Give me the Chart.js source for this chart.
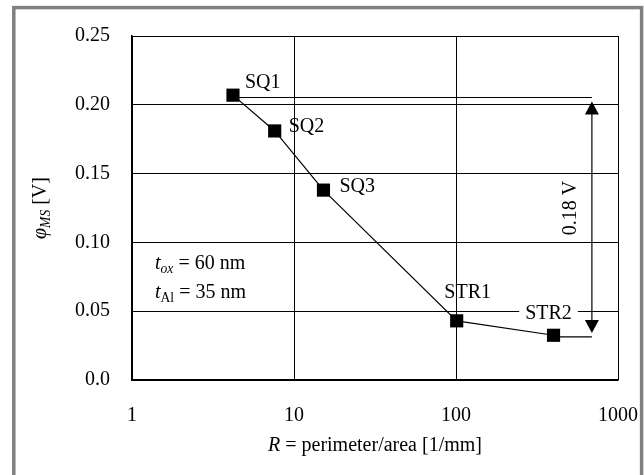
<!DOCTYPE html>
<html>
<head>
<meta charset="utf-8">
<script src="https://cdn.jsdelivr.net/npm/chart.js@4/dist/chart.umd.min.js"></script>
<style>
  html, body { margin: 0; padding: 0; background: #fff; }
  #wrap { width: 644px; height: 475px; }
</style>
</head>
<body>
<div id="wrap"><canvas id="c" width="644" height="475"></canvas></div>
<script>
// values
var pointNames = ['SQ1', 'SQ2', 'SQ3', 'STR1', 'STR2'];
var ratioR = [4.2, 7.6, 15.2, 101, 400];          // R = perimeter/area [1/mm]
var phiMS = [0.207, 0.181, 0.138, 0.043, 0.0325];  // [V]
var xTicks = [1, 10, 100, 1000];
var yTicks = [0, 0.05, 0.10, 0.15, 0.20, 0.25];
var diffTop = 0.2053;
var diffBottom = 0.0313;
var diffX = 690;
var diffLabel = '0.18 V';

var FONT = '"Liberation Serif", "Times New Roman", serif';
var FS = 20;

// label offsets next to each point [dx, dy, align, white box]
var labelPos = {
    SQ1: [12, -12, 'left', false],
    SQ2: [14, -4, 'left', false],
    SQ3: [16, -3, 'left', false],
    STR1: [11, -28, 'center', false],
    STR2: [-5, -22, 'center', true]
};

var mainData = ratioR.map(function(x, i) { return {x: x, y: phiMS[i]}; });

// draw mixed italic / regular runs, returns end x
function runs(ctx, parts, x, y) {
    parts.forEach(function(p) {
        var size = p.sub ? FS * 0.68 : FS;
        ctx.font = (p.it ? 'italic ' : '') + size + 'px ' + FONT;
        ctx.fillText(p.t, x, y + (p.sub ? 4 : 0));
        x += ctx.measureText(p.t).width;
    });
    return x;
}
function runsWidth(ctx, parts) {
    var w = 0;
    parts.forEach(function(p) {
        var size = p.sub ? FS * 0.68 : FS;
        ctx.font = (p.it ? 'italic ' : '') + size + 'px ' + FONT;
        w += ctx.measureText(p.t).width;
    });
    return w;
}

var framePlugin = {
    id: 'frame',
    beforeDraw: function(chart) {
        var ctx = chart.ctx;
        ctx.save();
        ctx.fillStyle = '#fff';
        ctx.fillRect(0, 0, chart.width, chart.height);
        ctx.strokeStyle = '#808080';
        ctx.lineWidth = 3.5;
        ctx.strokeRect(13.8, 7.6, 627.8, 500);
        ctx.restore();
    }
};

var notesPlugin = {
    id: 'notes',
    afterDraw: function(chart) {
        var ctx = chart.ctx;
        var xs = chart.scales.x, ys = chart.scales.y, area = chart.chartArea;
        ctx.save();
        ctx.fillStyle = '#000';
        ctx.strokeStyle = '#000';
        ctx.textBaseline = 'middle';

        // point names
        var meta = chart.getDatasetMeta(0);
        meta.data.forEach(function(el, i) {
            var name = pointNames[i];
            var o = labelPos[name];
            ctx.font = FS + 'px ' + FONT;
            ctx.textAlign = o[2];
            var tx = el.x + o[0], ty = el.y + o[1];
            if (o[3]) {
                var w = ctx.measureText(name).width;
                ctx.fillStyle = '#fff';
                ctx.fillRect(tx - w / 2 - 6, ty - 10, w + 12, 20);
                ctx.fillStyle = '#000';
            }
            ctx.fillText(name, tx, ty);
        });

        // double arrow for the difference
        var ax = xs.getPixelForValue(diffX);
        var top = ys.getPixelForValue(diffTop) + 4;
        var bot = ys.getPixelForValue(diffBottom) - 4;
        ctx.lineWidth = 1.2;
        ctx.beginPath();
        ctx.moveTo(ax, top + 10);
        ctx.lineTo(ax, bot - 10);
        ctx.stroke();
        ctx.beginPath();
        ctx.moveTo(ax, top); ctx.lineTo(ax - 7, top + 13); ctx.lineTo(ax + 7, top + 13);
        ctx.closePath(); ctx.fill();
        ctx.beginPath();
        ctx.moveTo(ax, bot); ctx.lineTo(ax - 7, bot - 13); ctx.lineTo(ax + 7, bot - 13);
        ctx.closePath(); ctx.fill();

        ctx.save();
        ctx.translate(ax - 21, (area.top + area.bottom) / 2);
        ctx.rotate(-Math.PI / 2);
        ctx.textAlign = 'center';
        ctx.font = FS + 'px ' + FONT;
        ctx.fillText(diffLabel, 0, 0);
        ctx.restore();

        // thickness notes
        ctx.textAlign = 'left';
        ctx.textBaseline = 'alphabetic';
        var nx = area.left + 23;
        runs(ctx, [{t: 't', it: true}, {t: 'ox', it: true, sub: true}, {t: ' = 60 nm'}], nx, 269);
        runs(ctx, [{t: 't', it: true}, {t: 'Al', sub: true}, {t: ' = 35 nm'}], nx, 298);

        // x axis title
        var xt = [{t: 'R', it: true}, {t: ' = perimeter/area [1/mm]'}];
        var w = runsWidth(ctx, xt);
        runs(ctx, xt, (area.left + area.right) / 2 - w / 2, 451);

        // y axis title
        var yt = [{t: '\u03c6', it: true}, {t: 'MS', it: true, sub: true}, {t: ' [V]'}];
        var wy = runsWidth(ctx, yt);
        ctx.save();
        ctx.translate(46, (area.top + area.bottom) / 2);
        ctx.rotate(-Math.PI / 2);
        runs(ctx, yt, -wy / 2, 0);
        ctx.restore();

        ctx.restore();
    }
};

var chart = new Chart(document.getElementById('c'), {
    type: 'scatter',
    data: {
        datasets: [{
            data: mainData,
            showLine: true,
            borderColor: '#000',
            borderWidth: 1.2,
            backgroundColor: '#000',
            pointStyle: 'rect',
            pointRadius: 9.3,
            pointBorderWidth: 0
        }, {
            data: [{x: ratioR[0], y: diffTop}, {x: diffX, y: diffTop}],
            showLine: true,
            borderColor: '#000',
            borderWidth: 1.2,
            pointRadius: 0
        }, {
            data: [{x: ratioR[4], y: diffBottom}, {x: diffX, y: diffBottom}],
            showLine: true,
            borderColor: '#000',
            borderWidth: 1.2,
            pointRadius: 0
        }]
    },
    options: {
        responsive: false,
        animation: false,
        layout: { padding: { left: 53, right: 26, top: 36, bottom: 47 } },
        plugins: { legend: { display: false }, tooltip: { enabled: false } },
        scales: {
            x: {
                type: 'logarithmic',
                min: 1,
                max: 1000,
                afterBuildTicks: function(axis) {
                    axis.ticks = xTicks.map(function(v) { return {value: v}; });
                },
                ticks: {
                    autoSkip: false,
                    maxRotation: 0,
                    padding: 0,
                    color: '#000',
                    font: { family: FONT, size: FS },
                    callback: function(v) { return String(v); }
                },
                // invisible tick marks give the label gap without side padding
                grid: { color: '#000', lineWidth: 1, drawTicks: true, tickLength: 24, tickColor: 'rgba(0,0,0,0)' },
                border: { color: '#000', width: 1.5 }
            },
            y: {
                min: 0,
                max: 0.25,
                afterBuildTicks: function(axis) {
                    axis.ticks = yTicks.map(function(v) { return {value: v}; });
                },
                ticks: {
                    padding: 22,
                    color: '#000',
                    font: { family: FONT, size: FS },
                    callback: function(v) { return v === 0 ? '0.0' : v.toFixed(2); }
                },
                grid: { color: '#000', lineWidth: 1, drawTicks: false },
                border: { color: '#000', width: 1.5 }
            }
        }
    },
    plugins: [framePlugin, notesPlugin]
});
</script>
</body>
</html>
